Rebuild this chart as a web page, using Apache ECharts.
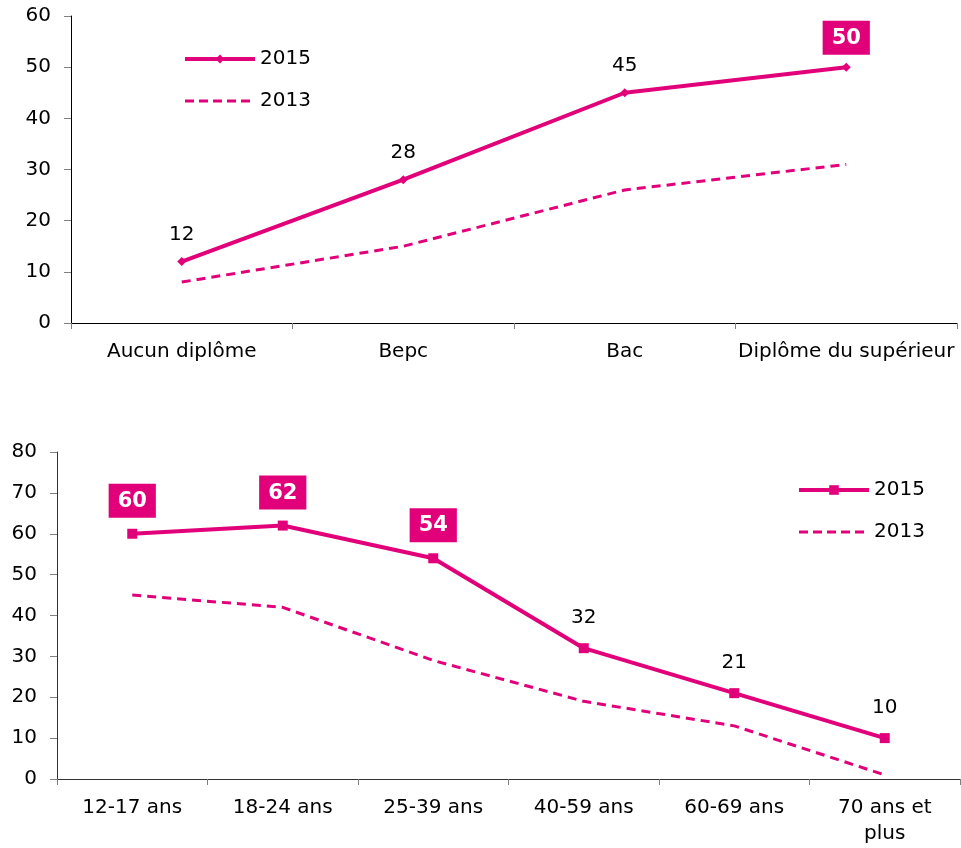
<!DOCTYPE html>
<html>
<head>
<meta charset="utf-8">
<script src="https://cdn.jsdelivr.net/npm/echarts@6/dist/echarts.min.js"></script>
<style>
	html, body { margin: 0; padding: 0; background: #fff; }
	#chart { width: 961px; height: 848px; }
</style>
</head>
<body>
<div id="chart"></div>
<script>
// diplome chart
const diplomas = ["Aucun diplôme", "Bepc", "Bac", "Diplôme du supérieur"]
const diploma2015 = [12, 28, 45, 50]
const diploma2013 = [8, 15, 26, 31]
const diplomaBoxed = [3]
const diplomaTicks = [0, 10, 20, 30, 40, 50, 60]

// age chart
const ages = ["12-17 ans", "18-24 ans", "25-39 ans", "40-59 ans", "60-69 ans", "70 ans et\nplus"]
const age2015 = [60, 62, 54, 32, 21, 10]
const age2013 = [45, 42, 29, 19, 13, 1]
const ageBoxed = [0, 1, 2]
const ageTicks = [0, 10, 20, 30, 40, 50, 60, 70, 80]

const pink = "#e2007a"
const font = "DejaVu Sans"
const fs = 20

const makeLabels = (values, boxed, plainDist, boxDist) =>
	values.map((v, i) => {
		if (boxed.includes(i)) {
			return {
				value: v,
				label: {
					show: true,
					position: "top",
					distance: boxDist,
					color: "#fff",
					fontWeight: "bold",
					fontSize: 21,
					backgroundColor: pink,
					padding: [7, 9, 6, 9],
				},
			}
		}
		return {
			value: v,
			label: { show: true, position: "top", distance: plainDist, color: "#000", fontSize: fs },
		}
	})

const yAxisBase = (ticks, grid, lineColor) => ({
	type: "value",
	gridIndex: grid,
	min: ticks[0],
	max: ticks[ticks.length - 1],
	interval: 10,
	splitLine: { show: false },
	axisLine: { show: true, lineStyle: { color: lineColor, width: 1 } },
	axisTick: { show: true, length: 7, lineStyle: { color: "#808080" } },
	axisLabel: { color: "#000", fontSize: fs, fontFamily: font, margin: 20 },
})

const xAxisBase = (cats, grid, lineColor) => ({
	type: "category",
	gridIndex: grid,
	data: cats,
	boundaryGap: true,
	axisLine: { show: true, lineStyle: { color: lineColor, width: 1 } },
	axisTick: { show: true, length: 6, lineStyle: { color: "#808080" } },
	axisLabel: { color: "#000", fontSize: fs, fontFamily: font, margin: 16, lineHeight: 26, interval: 0 },
})

const legendBase = (names, left, top, itemHeight) => ({
	orient: "vertical",
	left: left,
	top: top,
	padding: 0,
	itemWidth: 70,
	itemHeight: itemHeight,
	itemGap: 22,
	textStyle: { fontSize: fs, color: "#000", fontFamily: font },
	data: [
		{ name: names[0], lineStyle: { width: 4, color: pink } },
		{
			name: names[1],
			lineStyle: { width: 3, color: pink, type: [9, 5] },
			itemStyle: { color: "rgba(0,0,0,0)", borderWidth: 0 },
		},
	],
})

const chart = echarts.init(document.getElementById("chart"))

chart.setOption({
	animation: false,
	textStyle: { fontFamily: font },
	grid: [
		{ left: 71, top: 16, right: 4, bottom: 525 },
		{ left: 57, top: 452, right: 1, bottom: 69 },
	],
	legend: [
		legendBase(["2015", "2013 "], 183, 49, 11),
		legendBase(["2015\u200b", "2013\u200b"], 797, 480, 12),
	],
	xAxis: [xAxisBase(diplomas, 0, "#000"), xAxisBase(ages, 1, "#333")],
	yAxis: [yAxisBase(diplomaTicks, 0, "#000"), yAxisBase(ageTicks, 1, "#333")],
	series: [
		{
			name: "2013 ",
			type: "line",
			xAxisIndex: 0,
			yAxisIndex: 0,
			data: diploma2013,
			symbol: "none",
			lineStyle: { color: pink, width: 3, type: [9, 6] },
			itemStyle: { color: pink },
		},
		{
			name: "2015",
			type: "line",
			xAxisIndex: 0,
			yAxisIndex: 0,
			data: makeLabels(diploma2015, diplomaBoxed, 12, 8),
			symbol: "diamond",
			symbolSize: 9,
			lineStyle: { color: pink, width: 4 },
			itemStyle: { color: pink },
		},
		{
			name: "2013\u200b",
			type: "line",
			xAxisIndex: 1,
			yAxisIndex: 1,
			data: age2013,
			symbol: "none",
			lineStyle: { color: pink, width: 3, type: [9, 6] },
			itemStyle: { color: pink },
		},
		{
			name: "2015\u200b",
			type: "line",
			xAxisIndex: 1,
			yAxisIndex: 1,
			data: makeLabels(age2015, ageBoxed, 15, 11),
			symbol: "rect",
			symbolSize: 10,
			lineStyle: { color: pink, width: 4 },
			itemStyle: { color: pink },
		},
	],
})
</script>
</body>
</html>
